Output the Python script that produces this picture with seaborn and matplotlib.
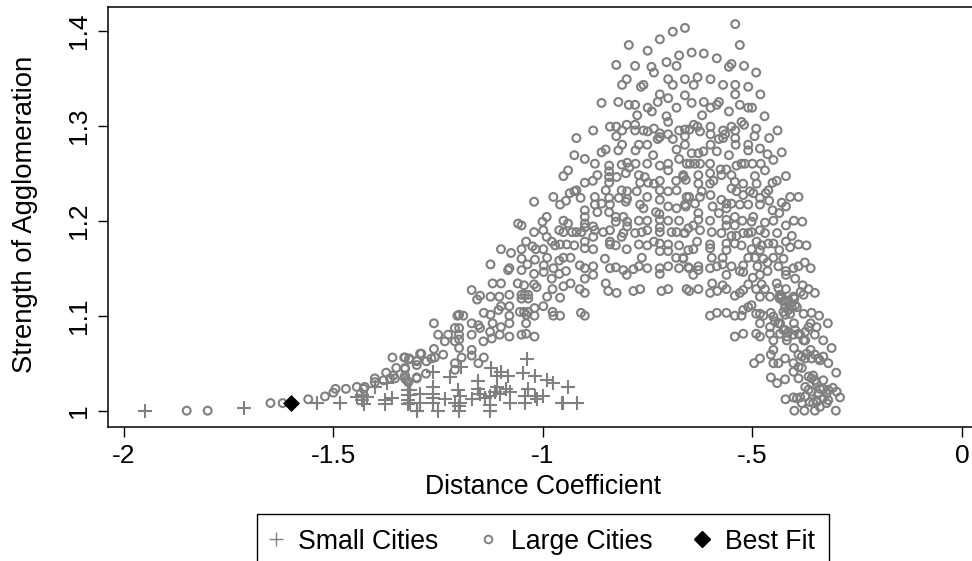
import pandas as pd
import matplotlib
matplotlib.use("Agg")
import matplotlib.pyplot as plt
from matplotlib.lines import Line2D
import seaborn as sns

# values
large_x = [
    -.541, -.530, -.661, -.690, -.721, -.795, -.750, -.675, -.645, -.616, -.585, -.550, -.556, -.520, -.491,
    -.825, -.780, -.741, -.735, -.705, -.681, -.800, -.811, -.760, -.766, -.701, -.690, -.661, -.631, -.640,
    -.600, -.570, -.541, -.510, -.481, -.541, -.721, -.726, -.701, -.661, -.645, -.616, -.580, -.585, -.600,
    -.530, -.510, -.501, -.860, -.820, -.795, -.780, -.750, -.740, -.681, -.775, -.705, -.701, -.620, -.556,
    -.471, -.526, -.520, -.840, -.825, -.800, -.780, -.880, -.920, -.825, -.811, -.780, -.760, -.750, -.735,
    -.721, -.721, -.726, -.701, -.690, -.675, -.661, -.650, -.640, -.631, -.625, -.661, -.600, -.600, -.570,
    -.550, -.541, -.565, -.580, -.570, -.541, -.491, -.495, -.460, -.440,
    -.951, -.940, -.925, -.900, -.876, -.860, -.850, -.820, -.811, -.779, -.771, -.751, -.842, -.842, -.842,
    -.842, -.870, -.881, -.900, -.824, -.812, -.799, -.794, -.802, -.779, -.751, -.721, -.701, -.701, -.675,
    -.657, -.681, -.661, -.737, -.771, -.757, -.749, -.721, -.768, -.735, -.682, -.665, -.659, -.925, -.936,
    -.920, -.910, -.945, -.959, -.975, -.850, -.876, -.842, -.812, -.799, -.819, -.802, -.776, -.751, -.721,
    -.721, -.701, -.681, -.701, -.681, -.657, -.659, -.876, -.860, -.840, -.900, -.870, -.842, -.768, -.760,
    -.799, -.730, -.722, -.991, -1.001, -.951, -.940, -.900, -.900, -.900, -.826, -.826, -.808, -.799, -.799,
    -.771, -.751, -.721, -.721, -.701, -.675, -.880, -.961, -.951, -.930, -.920, -.908, -.876, -.856, -.840,
    -.808, -.780, -.764, -.751, -.721, -.693, -.681, -.663, -.653, -.999, -.991, -.979, -.971, -.959, -.943,
    -.925, -.900, -.900, -.880, -.880, -.840, -.840, -.826, -.812, -.800, -.771, -.751, -.735, -.721, -.701,
    -.721, -.701, -.675, -.653, -.999, -.990, -.951, -.934, -.961, -.998, -.975, -.852, -.764, -.840, -.826,
    -.808, -.800, -.784, -.771, -.751, -.721, -.701, -.682, -.665, -.675, -.653, -.880, -.912, -.900, -.880,
    -.900, -.945, -.961, -.979, -.998, -.721, -.934, -.951, -.912, -.900, -.850, -.844, -.824, -.784, -.768,
    -.717, -.701, -.657, -.977, -.990, -.959,
    -.556, -.585, -.600, -.540, -.510, -.510, -.482, -.464, -.430, -.450, -.470, -.480, -.500, -.526, -.538,
    -.518, -.562, -.576, -.574, -.550, -.601, -.601, -.645, -.629, -.617, -.649, -.637, -.625, -.665, -.629,
    -.629, -.601, -.593, -.494, -.490, -.420, -.442, -.452, -.462, -.468, -.542, -.522, -.550, -.538, -.506,
    -.498, -.522, -.621, -.600, -.625, -.651, -.637, -.661, -.574, -.562, -.550, -.562, -.530, -.510, -.482,
    -.482, -.460, -.410, -.390, -.430, -.420, -.452, -.436, -.595, -.580, -.629, -.629, -.601, -.562, -.542,
    -.542, -.524, -.498, -.502, -.470, -.450, -.420, -.401, -.381, -.641, -.625, -.661, -.597, -.574, -.562,
    -.522, -.510, -.502, -.482, -.470, -.441, -.550, -.538, -.406, -.562, -.542, -.526, -.490, -.478, -.462,
    -.450, -.420, -.390, -.371, -.410, -.436, -.562, -.601, -.601, -.632, -.641, -.502, -.482, -.597, -.571,
    -.665, -.510, -.494, -.474, -.450, -.426, -.375, -.390, -.402, -.361, -.571, -.550, -.585, -.601, -.651,
    -.629, -.629, -.641, -.562, -.522, -.530, -.522, -.488, -.464, -.464, -.438, -.482, -.420, -.398, -.420,
    -.499, -.510, -.596, -.571, -.562, -.530, -.522, -.651, -.629, -.601, -.584, -.542, -.491, -.478, -.470,
    -.442, -.420, -.380, -.366, -.351, -.438, -.482, -.458, -.434, -.402, -.378,
    -.601, -.585, -.562, -.542, -.526, -.522, -.510, -.502, -.482, -.491, -.474, -.456, -.450, -.482, -.458,
    -.438, -.401, -.422, -.414, -.394, -.422, -.378, -.359, -.341, -.320, -.361, -.347, -.351, -.374, -.331,
    -.311, -.542, -.522, -.491, -.482, -.458, -.450, -.422, -.418, -.402, -.386, -.378, -.401, -.450, -.456,
    -.482, -.496, -.450, -.438, -.422, -.390, -.374, -.361, -.359, -.343, -.331, -.319, -.402, -.382, -.402,
    -.300, -.456, -.441, -.422, -.390, -.374, -.359, -.351, -.331, -.339, -.308, -.299, -.291, -.323, -.359,
    -.386, -.402, -.421, -.400, -.376, -.351, -.301, -.363, -.347, -.323, -.382, -.343,
    -.430, -.420, -.410, -.435, -.400, -.385,
    -1.021, -1.059, -1.051, -1.021, -1.040, -1.051, -1.025, -1.017, -1.100, -1.076, -1.051, -1.019, -1.125,
    -1.080, -1.083, -1.051, -1.037, -1.021, -1.120, -1.100, -1.170, -1.150, -1.060, -1.045, -1.021, -1.015,
    -1.125, -1.104, -1.080, -1.051, -1.035,
    -1.043, -1.051, -1.035, -1.157, -.999, -1.020, -1.045, -1.040, -1.055, -1.035, -1.020, -.977, -.975,
    -.959, -.909, -.900, -1.200, -1.190, -1.204, -1.141, -1.125, -1.100, -1.106, -1.080, -1.080, -1.260,
    -1.170, -1.154, -1.120, -1.080, -1.040, -1.210, -1.200, -1.250, -1.226, -1.200, -1.170, -1.150, -1.126,
    -1.100, -1.103, -1.080, -1.051, -1.040, -1.020, -1.234, -1.210, -1.200, -1.142, -1.122, -1.260, -1.238,
    -1.200, -1.170, -1.290, -1.329, -1.319, -1.300, -1.278, -1.266, -1.258, -1.210, -1.194, -1.170, -1.141,
    -1.154, -1.329, -1.301, -1.279, -1.329, -1.321, -1.301, -1.210,
    -1.850, -1.800, -1.650, -1.621, -1.560, -1.520, -1.500, -1.495, -1.470, -1.444, -1.425, -1.401, -1.374,
    -1.350, -1.329, -1.359, -1.331, -1.319, -1.301, -1.293, -1.380, -1.357, -1.353, -1.325, -1.301, -1.401,
    -1.428, -1.329, -1.365,
    -.434, -.426, -.414, -.406, -.426, -.410, -.398, -.434, -.446, -.426, -.414, -.398, -.390, -.374, -.366,
    -.434, -.418, -.382, -.371, -.351, -.339, -.390, -.366, -.355, -.347, -.331, -.319, -.366, -.374, -.347,
    -.331, -.319, -.394, -.355, -.339,
]
large_y = [
    1.407, 1.385, 1.403, 1.399, 1.391, 1.385, 1.379, 1.374, 1.377, 1.376, 1.371, 1.365, 1.362, 1.363, 1.356,
    1.364, 1.363, 1.362, 1.356, 1.367, 1.363, 1.349, 1.343, 1.343, 1.341, 1.349, 1.343, 1.349, 1.351, 1.343,
    1.349, 1.343, 1.343, 1.341, 1.333, 1.333, 1.333, 1.325, 1.329, 1.332, 1.324, 1.325, 1.325, 1.322, 1.319,
    1.322, 1.319, 1.319, 1.324, 1.325, 1.322, 1.322, 1.319, 1.315, 1.319, 1.311, 1.310, 1.304, 1.311, 1.315,
    1.310, 1.304, 1.301, 1.299, 1.299, 1.301, 1.301, 1.295, 1.287, 1.289, 1.295, 1.295, 1.295, 1.294, 1.297,
    1.292, 1.288, 1.286, 1.291, 1.286, 1.295, 1.296, 1.296, 1.301, 1.299, 1.294, 1.289, 1.299, 1.291, 1.295,
    1.299, 1.295, 1.291, 1.286, 1.287, 1.287, 1.297, 1.289, 1.287, 1.295,
    1.247, 1.253, 1.269, 1.265, 1.260, 1.272, 1.275, 1.274, 1.280, 1.274, 1.280, 1.280, 1.258, 1.252, 1.246,
    1.240, 1.248, 1.242, 1.240, 1.246, 1.259, 1.261, 1.256, 1.250, 1.260, 1.260, 1.258, 1.260, 1.253, 1.265,
    1.260, 1.275, 1.280, 1.269, 1.248, 1.246, 1.240, 1.242, 1.240, 1.239, 1.242, 1.246, 1.243, 1.231, 1.229,
    1.232, 1.224, 1.221, 1.217, 1.225, 1.232, 1.225, 1.224, 1.232, 1.231, 1.224, 1.220, 1.231, 1.225, 1.232,
    1.222, 1.231, 1.232, 1.215, 1.213, 1.225, 1.215, 1.217, 1.218, 1.217, 1.211, 1.209, 1.209, 1.217, 1.213,
    1.223, 1.209, 1.207, 1.204, 1.199, 1.200, 1.197, 1.204, 1.197, 1.193, 1.204, 1.199, 1.204, 1.199, 1.194,
    1.200, 1.200, 1.201, 1.193, 1.200, 1.200, 1.194, 1.190, 1.188, 1.188, 1.188, 1.188, 1.190, 1.188, 1.190,
    1.187, 1.187, 1.188, 1.190, 1.188, 1.188, 1.188, 1.187, 1.192, 1.190, 1.183, 1.178, 1.174, 1.175, 1.175,
    1.174, 1.178, 1.171, 1.183, 1.170, 1.178, 1.175, 1.174, 1.183, 1.170, 1.175, 1.174, 1.178, 1.176, 1.175,
    1.168, 1.168, 1.174, 1.169, 1.170, 1.161, 1.161, 1.161, 1.158, 1.153, 1.150, 1.160, 1.161, 1.150, 1.151,
    1.148, 1.143, 1.149, 1.152, 1.150, 1.150, 1.152, 1.161, 1.161, 1.150, 1.151, 1.152, 1.153, 1.150, 1.143,
    1.139, 1.147, 1.144, 1.139, 1.146, 1.144, 1.134, 1.131, 1.128, 1.124, 1.134, 1.126, 1.124, 1.126, 1.128,
    1.126, 1.128, 1.128, 1.128, 1.120, 1.119,
    1.269, 1.273, 1.280, 1.280, 1.280, 1.274, 1.276, 1.270, 1.272, 1.264, 1.253, 1.260, 1.260, 1.260, 1.258,
    1.260, 1.254, 1.254, 1.248, 1.248, 1.260, 1.250, 1.271, 1.271, 1.273, 1.260, 1.260, 1.260, 1.248, 1.248,
    1.239, 1.239, 1.242, 1.247, 1.239, 1.247, 1.242, 1.240, 1.232, 1.229, 1.241, 1.239, 1.234, 1.231, 1.231,
    1.229, 1.227, 1.231, 1.227, 1.225, 1.225, 1.218, 1.217, 1.222, 1.218, 1.218, 1.213, 1.217, 1.217, 1.224,
    1.217, 1.221, 1.225, 1.225, 1.219, 1.215, 1.211, 1.208, 1.215, 1.208, 1.208, 1.201, 1.200, 1.201, 1.204,
    1.195, 1.200, 1.204, 1.199, 1.198, 1.200, 1.195, 1.200, 1.199, 1.195, 1.190, 1.187, 1.188, 1.187, 1.195,
    1.187, 1.187, 1.188, 1.190, 1.187, 1.187, 1.184, 1.184, 1.184, 1.176, 1.176, 1.174, 1.178, 1.174, 1.176,
    1.176, 1.178, 1.175, 1.174, 1.172, 1.169, 1.169, 1.175, 1.171, 1.178, 1.170, 1.170, 1.169, 1.161, 1.161,
    1.160, 1.161, 1.161, 1.160, 1.161, 1.160, 1.156, 1.152, 1.150, 1.150, 1.154, 1.152, 1.152, 1.150, 1.150,
    1.152, 1.148, 1.143, 1.143, 1.153, 1.147, 1.146, 1.152, 1.156, 1.147, 1.152, 1.143, 1.147, 1.139, 1.143,
    1.140, 1.133, 1.134, 1.132, 1.128, 1.124, 1.127, 1.126, 1.128, 1.124, 1.126, 1.121, 1.128, 1.133, 1.128,
    1.134, 1.128, 1.132, 1.128, 1.124, 1.129, 1.120, 1.120, 1.122, 1.120, 1.122,
    1.100, 1.103, 1.103, 1.100, 1.100, 1.106, 1.109, 1.111, 1.102, 1.102, 1.100, 1.103, 1.099, 1.092, 1.088,
    1.092, 1.092, 1.109, 1.106, 1.109, 1.101, 1.102, 1.103, 1.100, 1.092, 1.092, 1.088, 1.080, 1.083, 1.074,
    1.066, 1.078, 1.081, 1.081, 1.078, 1.081, 1.074, 1.085, 1.078, 1.080, 1.080, 1.074, 1.066, 1.064, 1.059,
    1.055, 1.050, 1.050, 1.050, 1.055, 1.059, 1.055, 1.064, 1.055, 1.055, 1.057, 1.050, 1.050, 1.045, 1.041,
    1.040, 1.035, 1.029, 1.033, 1.034, 1.025, 1.034, 1.032, 1.032, 1.023, 1.024, 1.020, 1.014, 1.018, 1.020,
    1.014, 1.014, 1.012, 1.000, 1.000, 1.000, 1.000, 1.009, 1.009, 1.008, 1.008, 1.018,
    1.120, 1.115, 1.112, 1.118, 1.118, 1.125,
    1.220, 1.197, 1.195, 1.188, 1.178, 1.170, 1.173, 1.170, 1.170, 1.166, 1.160, 1.159, 1.154,
    1.150, 1.148, 1.148, 1.154, 1.144, 1.134, 1.134, 1.127, 1.121, 1.134, 1.132, 1.133, 1.130,
    1.120, 1.120, 1.122, 1.122, 1.122,
    1.122, 1.118, 1.118, 1.117, 1.110, 1.108, 1.104, 1.101, 1.104, 1.104, 1.100, 1.104, 1.100,
    1.100, 1.103, 1.100, 1.101, 1.100, 1.100, 1.103, 1.101, 1.110, 1.106, 1.110, 1.100, 1.092,
    1.092, 1.090, 1.092, 1.092, 1.092, 1.087, 1.087, 1.080, 1.080, 1.080, 1.080, 1.087, 1.083,
    1.088, 1.080, 1.078, 1.080, 1.081, 1.078, 1.073, 1.073, 1.075, 1.073, 1.076, 1.065, 1.059,
    1.066, 1.064, 1.060, 1.056, 1.054, 1.053, 1.052, 1.055, 1.056, 1.050, 1.056, 1.058, 1.056,
    1.050, 1.045, 1.048, 1.039, 1.034, 1.030, 1.035, 1.043,
    1.000, 1.000, 1.008, 1.008, 1.012, 1.015, 1.019, 1.023, 1.023, 1.025, 1.025, 1.034, 1.040,
    1.045, 1.044, 1.056, 1.056, 1.055, 1.052, 1.060, 1.032, 1.037, 1.034, 1.032, 1.034, 1.030,
    1.023, 1.037, 1.034,
    1.120, 1.115, 1.116, 1.109, 1.104, 1.102, 1.111, 1.092, 1.094, 1.085, 1.083, 1.085, 1.081, 1.074, 1.088,
    1.081, 1.074, 1.057, 1.060, 1.059, 1.053, 1.046, 1.036, 1.037, 1.029, 1.023, 1.022, 1.022, 1.015, 1.011,
    1.013, 1.011, 1.013, 1.008, 1.004,
]
small_x = [
    -1.949, -1.714, -1.540, -1.484, -1.444, -1.432, -1.432, -1.420, -1.428, -1.377, -1.377, -1.361, -1.401,
    -1.373, -1.321, -1.321, -1.321, -1.321, -1.301, -1.039, -1.125, -1.100, -1.048, -1.019, -1.083, -1.110,
    -.991, -.975, -.939, -1.196, -1.222, -1.262, -1.154, -1.262, -1.202, -1.154, -1.110, -1.087, -1.035,
    -1.317, -1.293, -1.317, -1.262, -1.234, -1.317, -1.293, -1.262, -1.210, -1.198, -1.198, -1.170, -1.150,
    -1.126, -1.126, -1.102, -1.079, -1.079, -1.043, -1.043, -1.019, -.999, -1.015, -.955, -.951, -.919,
    -1.300, -1.250, -1.200, -1.126, -1.200, -1.262, -1.138, -1.114,
]
small_y = [
    1.000, 1.003, 1.008, 1.008, 1.014, 1.016, 1.011, 1.014, 1.007, 1.011, 1.007, 1.013, 1.025,
    1.029, 1.022, 1.016, 1.011, 1.007, 1.000, 1.054, 1.045, 1.041, 1.040, 1.036, 1.036, 1.036,
    1.032, 1.029, 1.025, 1.046, 1.035, 1.041, 1.031, 1.025, 1.022, 1.023, 1.025, 1.023, 1.023,
    1.022, 1.018, 1.016, 1.018, 1.012, 1.008, 1.008, 1.008, 1.008, 1.015, 1.008, 1.012, 1.018,
    1.015, 1.006, 1.018, 1.020, 1.008, 1.015, 1.008, 1.015, 1.015, 1.012, 1.008, 1.008, 1.008,
    1.000, 1.000, 1.000, 1.000, 1.005, 1.013, 1.013, 1.020,
]
best_x = [-1.600]
best_y = [1.008]
x_ticks = [-2, -1.5, -1, -.5, 0]
x_labels = ["-2", "-1.5", "-1", "-.5", "0"]
y_ticks = [1, 1.1, 1.2, 1.3, 1.4]
y_labels = ["1", "1.1", "1.2", "1.3", "1.4"]

sns.set_style("white")
plt.rcParams["font.family"] = ["Liberation Sans", "DejaVu Sans"]
plt.rcParams["text.color"] = "black"
plt.rcParams["axes.labelcolor"] = "black"

large = pd.DataFrame({"x": large_x, "y": large_y})
small = pd.DataFrame({"x": small_x, "y": small_y})
best = pd.DataFrame({"x": best_x, "y": best_y})

gray = "#808080"
fig = plt.figure(figsize=(9.72, 5.61), dpi=100)
ax = fig.add_axes([107.5 / 972, 1 - 427.3 / 561, 1 - 107.5 / 972, (427.3 - 7) / 561])

sns.scatterplot(data=small, x="x", y="y", marker="+", s=100, color=gray, linewidth=1.5, legend=False, ax=ax, zorder=2)
sns.scatterplot(data=large, x="x", y="y", marker="o", s=32, color=gray, edgecolor=gray, facecolor="none", linewidth=1.5, legend=False, ax=ax, zorder=3)
sns.scatterplot(data=best, x="x", y="y", marker="D", s=75, color="black", linewidth=0, legend=False, ax=ax, zorder=4)

ax.set_xlim(-2.039, 0.024)
ax.set_ylim(0.9825, 1.425)
ax.set_xticks(x_ticks)
ax.set_xticklabels(x_labels)
ax.set_yticks(y_ticks)
ax.set_yticklabels(y_labels, rotation=90, va="center")
ax.tick_params(axis="both", length=7, width=1, color="black", labelsize=19, labelcolor="black", bottom=True, left=True, pad=5)
ax.set_xlabel("Distance Coefficient", fontsize=19.2, labelpad=4.5, x=0.5035)
ax.set_ylabel("Strength of Agglomeration", fontsize=19.8, labelpad=21, y=0.507)
for side in ax.spines.values():
    side.set_color("black")
    side.set_linewidth(1.1)
ax.spines["right"].set_visible(False)

handles = [
    Line2D([], [], marker="+", color=gray, linestyle="none", markersize=10, markeredgewidth=1, label="Small Cities"),
    Line2D([], [], marker="o", markerfacecolor="none", markeredgecolor=gray, linestyle="none", markersize=5.5, markeredgewidth=1.4, label="Large Cities"),
    Line2D([], [], marker="D", color="black", linestyle="none", markersize=8.5, label="Best Fit"),
]
fig.legend(handles=handles, ncols=3, loc="upper left", bbox_to_anchor=(256.6 / 972, 1 - 514 / 561), fontsize=19.2,
           frameon=True, fancybox=False, edgecolor="black", framealpha=1, borderaxespad=0, borderpad=0.55,
           handletextpad=0.67, columnspacing=1.7, handlelength=0.34)

fig.savefig("out.png", dpi=100)
